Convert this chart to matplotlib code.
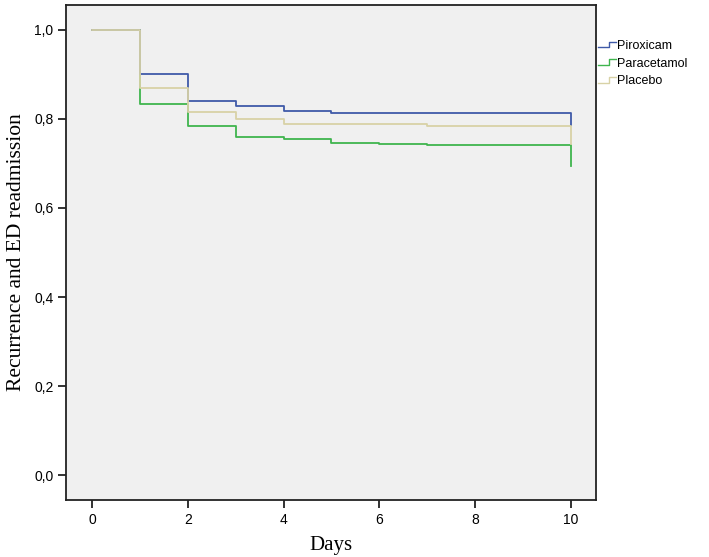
import matplotlib
matplotlib.use("Agg")
import matplotlib.pyplot as plt
from matplotlib.legend_handler import HandlerBase
from matplotlib.lines import Line2D
from matplotlib.ticker import FuncFormatter

# Kaplan-Meier step values (value holds from day[i] onward)
days = [0, 1, 2, 3, 4, 5, 6, 7, 10]
piroxicam = [1.0, 0.900, 0.841, 0.828, 0.818, 0.813, 0.813, 0.813, 0.786]
paracetamol = [1.0, 0.833, 0.783, 0.759, 0.754, 0.747, 0.744, 0.742, 0.694]
placebo = [1.0, 0.870, 0.815, 0.799, 0.788, 0.788, 0.788, 0.783, 0.744]

groups = ["Piroxicam", "Paracetamol", "Placebo"]
colors = ["#3f5aa8", "#3fb54e", "#d8d2a6"]


class StepHandler(HandlerBase):
    # little step icon like the SPSS legend
    def create_artists(self, legend, orig_handle, xdescent, ydescent,
                       width, height, fontsize, trans):
        x0, x1 = -xdescent, -xdescent + width
        xm = x0 + width * 0.6
        ylo, yhi = -ydescent + height * 0.2, -ydescent + height * 0.85
        ln = Line2D([x0, xm, xm, x1], [ylo, ylo, yhi, yhi],
                    color=orig_handle.get_color(), lw=1.0)
        ln.set_transform(trans)
        return [ln]


fig = plt.figure(figsize=(7.09, 5.57), dpi=100)
ax = fig.add_axes([0.0931, 0.1023, 0.7475, 0.8896])
ax.set_facecolor("#f0f0f0")

handles = {}
for name, vals, c in [("Paracetamol", paracetamol, colors[1]),
                      ("Piroxicam", piroxicam, colors[0]),
                      ("Placebo", placebo, colors[2])]:
    ln, = ax.step(days, vals, where="post", color=c, lw=1.3)
    handles[name] = ln

ax.set_xlim(-0.55, 10.53)
ax.set_ylim(-0.056, 1.057)
ax.set_xticks([0, 2, 4, 6, 8, 10])
ax.set_yticks([0.0, 0.2, 0.4, 0.6, 0.8, 1.0])
ax.yaxis.set_major_formatter(FuncFormatter(lambda v, p: f"{v:.1f}".replace(".", ",")))

for s in ax.spines.values():
    s.set_color("#222222")
    s.set_linewidth(1.3)
ax.tick_params(direction="out", length=6, width=1.3, color="#222222",
               labelsize=10, pad=3)
for lab in ax.get_xticklabels() + ax.get_yticklabels():
    lab.set_family(["Liberation Sans", "DejaVu Sans"])

ax.set_xlabel("Days", family="Liberation Serif", fontsize=15, labelpad=7)
ax.set_ylabel("Recurrence and ED readmission", family="Liberation Serif",
              fontsize=15.5, labelpad=6)

leg = fig.legend([handles[g] for g in groups], groups,
                 loc="upper left", bbox_to_anchor=(0.828, 0.948),
                 frameon=False, handler_map={Line2D: StepHandler()},
                 handlelength=1.4, handletextpad=0.1, labelspacing=0.45,
                 prop={"family": "Liberation Sans", "size": 9})

fig.savefig("out.png", dpi=100)
